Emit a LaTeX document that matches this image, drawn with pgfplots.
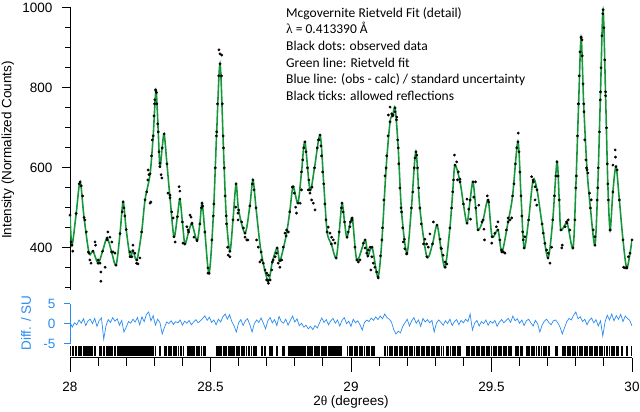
\documentclass[border=0pt]{standalone}
\usepackage{fontspec}
\setmainfont{Liberation Sans}
\newfontfamily\calibri{Carlito}
\newfontfamily\serifgreek{Liberation Serif}
\usepackage{pgfplots}
\usepackage{pgfplotstable}
\pgfplotsset{compat=1.18}
\definecolor{fitgreen}{RGB}{24,150,60}
\definecolor{diffblue}{RGB}{40,140,240}
\newcommand\lab{\fontsize{13.5}{16}\selectfont}

\pgfplotstableread{
x y
28.000 482
28.007 407
28.022 486
28.036 565
28.050 476
28.068 387
28.082 392
28.100 362
28.116 392
28.132 425
28.148 390
28.164 357
28.178 436
28.189 515
28.200 446
28.214 378
28.224 393
28.238 370
28.255 440
28.267 520
28.285 585
28.296 680
28.306 792
28.314 690
28.320 603
28.328 650
28.335 685
28.345 610
28.356 525
28.370 428
28.382 478
28.391 522
28.400 465
28.409 410
28.422 440
28.434 460
28.452 418
28.462 460
28.470 512
28.480 440
28.495 337
28.510 480
28.522 690
28.534 860
28.546 650
28.556 480
28.569 392
28.580 470
28.591 560
28.600 495
28.623 437
28.640 505
28.651 570
28.662 500
28.680 390
28.705 318
28.720 365
28.737 400
28.747 368
28.769 430
28.782 490
28.794 553
28.811 512
28.824 590
28.836 665
28.854 545
28.870 600
28.890 682
28.903 560
28.915 440
28.930 410
28.947 375
28.958 440
28.968 512
28.977 465
28.986 427
29.004 475
29.021 370
29.050 420
29.060 380
29.075 402
29.096 328
29.110 420
29.125 600
29.139 715
29.148 730
29.157 750
29.168 650
29.180 490
29.199 387
29.215 500
29.231 640
29.245 500
29.270 378
29.290 410
29.306 457
29.320 400
29.335 352
29.352 450
29.362 540
29.370 607
29.388 565
29.400 510
29.413 462
29.424 520
29.434 565
29.444 500
29.452 445
29.470 470
29.488 520
29.502 428
29.523 445
29.537 390
29.559 465
29.575 530
29.594 665
29.605 530
29.616 400
29.632 470
29.648 570
29.662 545
29.680 460
29.701 375
29.718 470
29.733 615
29.741 520
29.747 445
29.769 462
29.790 400
29.800 550
29.810 760
29.819 925
29.828 760
29.840 595
29.852 500
29.868 407
29.878 550
29.888 790
29.897 995
29.906 780
29.914 560
29.922 445
29.932 540
29.943 603
29.955 520
29.968 420
29.982 350
30.000 420
}\calc

\begin{document}
\begin{tikzpicture}
\useasboundingbox (0,0) rectangle (640pt,412pt);

% ---------- main panel ----------
\begin{axis}[
  at={(70pt,122pt)}, anchor=south west,
  scale only axis, width=562pt, height=283pt,
  xmin=28, xmax=30, ymin=295, ymax=1002,
  axis x line=none, axis y line=left,
  axis line style={-, line width=1pt},
  ytick={400,600,800,1000},
  minor ytick={300,350,450,500,550,650,700,750,850,900,950},
  tick align=outside, major tick length=8pt, minor tick length=5pt,
  every tick/.style={black, line width=1pt},
  tick label style={font=\lab},
  yticklabel style={xshift=-6pt},
  /pgf/number format/assume math mode=true,
  /pgf/number format/1000 sep={},
]
\addplot[fitgreen, line width=1.6pt, smooth] table {\calc};
\addplot[only marks, mark=*, mark size=1.2pt, black] table {\calc};
\addplot[only marks, mark=*, mark size=1.2pt, black] coordinates {
(28.004,415) (28.010,392) (28.033,560) (28.040,555) (28.045,530) (28.053,470) (28.058,440)
(28.065,390) (28.071,370) (28.075,362) (28.089,415) (28.091,407) (28.100,370) (28.107,362)
(28.110,340) (28.110,317) (28.125,352) (28.132,420) (28.135,440) (28.142,427) (28.149,415)
(28.153,390) (28.160,387) (28.186,490) (28.192,500) (28.195,480) (28.214,390) (28.220,378)
(28.224,407) (28.231,387) (28.237,362) (28.242,360) (28.249,375) (28.273,540) (28.277,570)
(28.278,595) (28.281,583) (28.285,512) (28.288,515) (28.301,760) (28.304,795) (28.308,788)
(28.290,630) (28.293,670) (28.299,730) (28.302,770) (28.309,760) (28.312,710) (28.317,640)
(28.320,612) (28.324,583) (28.327,575) (28.349,537) (28.356,532) (28.362,490) (28.367,475)
(28.374,415) (28.388,553) (28.391,542) (28.402,412) (28.416,453) (28.420,445) (28.427,482)
(28.431,477) (28.434,462) (28.441,427) (28.452,420) (28.468,500) (28.472,505) (28.491,337)
(28.491,350) (28.530,895) (28.534,885) (28.540,882)
(28.505,420) (28.512,510) (28.517,600) (28.521,680) (28.525,760) (28.529,830)
(28.539,830) (28.542,760) (28.545,680) (28.549,600) (28.552,530) (28.557,460)
(28.561,402) (28.563,382) (28.569,378) (28.590,502) (28.598,487) (28.598,470) (28.611,465)
(28.617,450) (28.623,427) (28.629,420) (28.633,420) (28.649,560) (28.655,545) (28.664,420)
(28.670,402) (28.676,365) (28.682,370) (28.688,362) (28.694,345) (28.700,337) (28.700,320)
(28.706,312) (28.706,332) (28.712,320) (28.718,345) (28.723,370) (28.730,378) (28.735,387)
(28.741,362) (28.747,352) (28.753,370) (28.759,402) (28.765,437) (28.771,445) (28.777,440)
(28.791,552) (28.798,537) (28.803,502) (28.806,487) (28.819,512) (28.824,545) (28.848,545)
(28.828,620) (28.832,650) (28.840,640) (28.845,600) (28.850,570)
(28.854,537) (28.860,520) (28.861,552) (28.866,512) (28.872,495) (28.886,670) (28.893,655)
(28.880,650) (28.884,670) (28.895,630) (28.899,590) (28.907,510) (28.911,470)
(28.919,452) (28.925,437) (28.931,427) (28.937,420) (28.943,412) (28.966,500) (28.972,490)
(28.990,440) (28.998,465) (29.004,470) (28.996,453) (29.014,402) (29.026,365) (29.032,370)
(29.044,412) (29.050,400) (29.056,387) (29.062,395) (29.068,402) (29.071,345) (29.074,378)
(29.079,362) (29.085,352) (29.091,340) (29.097,325)
(29.105,380) (29.112,450) (29.117,520) (29.121,580) (29.127,630) (29.132,680)
(29.133,732) (29.139,752) (29.145,735) (29.150,732) (29.157,740) (29.163,727)
(29.162,720) (29.166,670) (29.170,610) (29.174,550) (29.178,500) (29.184,450)
(29.186,415) (29.190,422) (29.192,398) (29.198,385) (29.228,625) (29.234,632)
(29.220,540) (29.225,600) (29.237,600) (29.241,550) (29.250,460) (29.258,410)
(29.263,422) (29.269,410) (29.275,402) (29.281,435) (29.293,465) (29.317,422) (29.322,398)
(29.328,382) (29.335,365) (29.341,360) (29.358,500) (29.365,570) (29.368,632) (29.376,615)
(29.379,570) (29.382,590) (29.388,572) (29.413,522) (29.419,497) (29.425,472) (29.437,527)
(29.443,565) (29.455,507) (29.466,465) (29.473,447) (29.475,420) (29.485,530) (29.490,515)
(29.501,412) (29.512,437) (29.517,453) (29.523,465) (29.530,420) (29.536,395) (29.542,390)
(29.548,387) (29.553,445) (29.559,475) (29.566,470) (29.572,475)
(29.580,560) (29.585,610) (29.590,650) (29.595,687) (29.598,640) (29.601,590) (29.608,480) (29.611,440)
(29.613,420) (29.619,428) (29.643,578) (29.649,565) (29.655,553) (29.655,520) (29.661,507)
(29.684,437) (29.690,412) (29.696,395) (29.702,387) (29.708,362) (29.714,402)
(29.724,530) (29.729,580) (29.737,580)
(29.750,400) (29.752,407) (29.762,453) (29.767,465) (29.773,470) (29.779,445)
(29.797,470) (29.802,580) (29.806,680) (29.809,760) (29.812,830) (29.815,890)
(29.819,927) (29.822,920) (29.823,880) (29.826,810) (29.829,740) (29.832,670) (29.836,620)
(29.838,600) (29.843,587) (29.849,537) (29.855,520) (29.862,445) (29.868,428)
(29.876,520) (29.880,600) (29.884,690) (29.887,770) (29.890,850) (29.893,930) (29.896,985)
(29.900,950) (29.903,870) (29.906,790) (29.909,700) (29.912,610) (29.916,520)
(29.922,445) (29.932,607) (29.940,645) (29.941,627) (29.947,595)
(29.970,352) (29.975,350) (29.981,352) (29.987,378) (29.993,387)
};
\end{axis}

% ---------- difference panel ----------
\begin{axis}[
  at={(70pt,68pt)}, anchor=south west,
  scale only axis, width=562pt, height=40pt,
  xmin=28, xmax=30, ymin=-5, ymax=5,
  axis x line=none, axis y line=left,
  axis line style={-, diffblue, line width=1pt},
  ytick={-5,0,5},
  tick align=outside, major tick length=6pt,
  every tick/.style={diffblue, line width=1pt},
  tick label style={font=\lab, text=diffblue},
  yticklabel style={xshift=-5pt},
  /pgf/number format/assume math mode=true,
]
\addplot[diffblue, line width=0.7pt] coordinates {
(28.000,0.5) (28.008,-0.8) (28.016,0.3) (28.024,-0.2) (28.032,1.0) (28.040,0.2) (28.048,1.3) (28.056,-0.4) (28.064,0.8) (28.072,1.2)
(28.080,0.1) (28.088,1.4) (28.096,-0.6) (28.104,0.9) (28.112,1.5) (28.120,-3.8) (28.128,-0.5) (28.136,1.1) (28.144,0.4) (28.152,1.6)
(28.160,0.7) (28.168,1.3) (28.176,-0.3) (28.184,0.9) (28.192,-2.0) (28.200,-0.8) (28.208,0.6) (28.216,0.2) (28.224,1.2) (28.232,0.5)
(28.240,1.6) (28.248,-0.2) (28.256,1.8) (28.264,0.6) (28.272,2.4) (28.280,3.0) (28.288,0.8) (28.296,2.1) (28.304,-0.3) (28.312,1.2)
(28.320,0.4) (28.328,-2.5) (28.336,-0.9) (28.344,0.5) (28.352,0.1) (28.360,0.8) (28.368,-0.1) (28.376,0.6) (28.384,0.3) (28.392,1.0)
(28.400,-0.3) (28.408,0.7) (28.416,0.2) (28.424,0.9) (28.432,-0.2) (28.440,0.5) (28.448,1.1) (28.456,0.3) (28.464,0.8) (28.472,1.4)
(28.480,2.0) (28.488,0.9) (28.496,1.7) (28.504,0.4) (28.512,1.0) (28.520,-0.2) (28.528,1.2) (28.536,0.5) (28.544,1.8) (28.552,2.5)
(28.560,1.2) (28.568,2.3) (28.576,0.6) (28.584,-0.5) (28.592,-2.0) (28.600,0.3) (28.608,1.1) (28.616,-0.4) (28.624,0.8) (28.632,1.3)
(28.640,-0.2) (28.648,-2.0) (28.656,0.1) (28.664,1.0) (28.672,0.4) (28.680,1.5) (28.688,0.2) (28.696,-1.2) (28.704,0.8) (28.712,1.6)
(28.720,0.3) (28.728,1.1) (28.736,-0.4) (28.744,1.9) (28.752,0.6) (28.760,0.2) (28.768,1.2) (28.776,-0.3) (28.784,0.9) (28.792,2.0)
(28.800,0.5) (28.808,1.3) (28.816,-0.4) (28.824,0.2) (28.832,-0.8) (28.840,-0.3) (28.848,-1.2) (28.856,-0.6) (28.864,-1.4) (28.872,-0.4)
(28.880,-1.0) (28.888,0.3) (28.896,1.5) (28.904,0.4) (28.912,1.1) (28.920,-0.2) (28.928,0.8) (28.936,1.4) (28.944,0.2) (28.952,1.0)
(28.960,-0.5) (28.968,0.9) (28.976,1.6) (28.984,0.1) (28.992,0.7) (29.000,-0.6) (29.008,1.2) (29.016,0.3) (29.024,0.8) (29.032,-0.2)
(29.040,-1.5) (29.048,0.4) (29.056,1.0) (29.064,0.6) (29.072,1.5) (29.080,0.9) (29.088,1.8) (29.096,1.1) (29.104,2.0) (29.112,1.3)
(29.120,2.5) (29.128,1.6) (29.136,1.2) (29.144,0.5) (29.152,-1.4) (29.160,-2.5) (29.168,-1.8) (29.176,-2.2) (29.184,-0.6) (29.192,0.3)
(29.200,1.2) (29.208,-0.5) (29.216,0.8) (29.224,1.6) (29.232,0.2) (29.240,1.0) (29.248,-0.6) (29.256,1.4) (29.264,0.5) (29.272,1.1)
(29.280,0.3) (29.288,0.9) (29.296,-2.0) (29.304,0.2) (29.312,1.0) (29.320,0.4) (29.328,-0.3) (29.336,0.8) (29.344,0.1) (29.352,1.2)
(29.360,-0.4) (29.368,0.6) (29.376,1.1) (29.384,-0.2) (29.392,0.9) (29.400,0.3) (29.408,1.2) (29.416,0.6) (29.424,2.5) (29.432,-1.5)
(29.440,0.2) (29.448,0.9) (29.456,-0.5) (29.464,0.6) (29.472,0.1) (29.480,1.0) (29.488,-0.3) (29.496,0.7) (29.504,0.2) (29.512,0.9)
(29.520,-0.6) (29.528,0.5) (29.536,1.1) (29.544,0.3) (29.552,0.9) (29.560,1.4) (29.568,0.4) (29.576,2.0) (29.584,0.8) (29.592,1.3)
(29.600,0.2) (29.608,1.0) (29.616,-0.4) (29.624,0.8) (29.632,1.2) (29.640,0.3) (29.648,-0.5) (29.656,0.9) (29.664,0.1) (29.672,-2.0)
(29.680,-0.3) (29.688,0.7) (29.696,1.2) (29.704,0.4) (29.712,-0.2) (29.720,0.8) (29.728,1.0) (29.736,0.3) (29.744,-0.8) (29.752,-2.5)
(29.760,-0.9) (29.768,0.6) (29.776,1.4) (29.784,1.0) (29.792,2.2) (29.800,3.0) (29.808,1.3) (29.816,1.8) (29.824,0.6) (29.832,1.2)
(29.840,-0.2) (29.848,0.9) (29.856,1.5) (29.864,0.3) (29.872,1.1) (29.880,-0.5) (29.888,0.8) (29.896,-3.0) (29.904,0.5) (29.912,2.2)
(29.920,1.0) (29.928,2.5) (29.936,0.8) (29.944,2.1) (29.952,1.2) (29.960,2.4) (29.968,0.6) (29.976,2.0) (29.984,1.4) (29.992,0.9)
(30.000,-0.5)
};
\end{axis}

% ---------- reflections and x axis ----------
\begin{axis}[
  at={(70pt,54pt)}, anchor=south west,
  scale only axis, width=562pt, height=12pt,
  xmin=28, xmax=30, ymin=-0.2, ymax=1,
  axis y line=none, axis x line=bottom,
  axis line style={-, line width=1pt},
  xtick={28,28.5,29,29.5,30},
  minor x tick num=4,
  tick align=outside, major tick length=14pt, minor tick length=8pt,
  every tick/.style={black, line width=1pt},
  tick label style={font=\lab},
  xticklabel style={yshift=-7pt},
  /pgf/number format/assume math mode=true,
]
\addplot[ycomb, black, line width=1.3pt] coordinates {
(28.002,1) (28.008,1) (28.013,1) (28.019,1) (28.024,1) (28.031,1) (28.036,1) (28.042,1) (28.047,1) (28.053,1)
(28.058,1) (28.064,1) (28.070,1) (28.075,1) (28.081,1) (28.086,1) (28.091,1)
(28.107,1) (28.112,1) (28.118,1) (28.124,1) (28.129,1) (28.135,1) (28.141,1) (28.146,1) (28.152,1) (28.158,1)
(28.163,1) (28.169,1) (28.174,1) (28.180,1) (28.185,1) (28.190,1) (28.195,1) (28.199,1)
(28.203,1) (28.206,1) (28.210,1) (28.214,1) (28.217,1) (28.221,1) (28.225,1) (28.229,1) (28.232,1) (28.236,1)
(28.240,1) (28.244,1) (28.248,1) (28.252,1) (28.256,1) (28.260,1) (28.264,1) (28.268,1) (28.272,1) (28.276,1)
(28.280,1) (28.284,1) (28.288,1) (28.292,1) (28.298,1) (28.305,1) (28.318,1) (28.323,1)
(28.338,1) (28.344,1) (28.350,1) (28.356,1) (28.362,1) (28.368,1) (28.374,1) (28.380,1) (28.386,1) (28.392,1)
(28.398,1) (28.404,1) (28.418,1) (28.423,1) (28.428,1) (28.433,1) (28.438,1) (28.444,1) (28.450,1) (28.456,1)
(28.462,1) (28.468,1) (28.474,1) (28.480,1)
(28.523,1) (28.528,1) (28.534,1) (28.540,1) (28.546,1) (28.552,1) (28.558,1) (28.563,1) (28.569,1) (28.575,1)
(28.580,1) (28.586,1) (28.592,1) (28.598,1) (28.604,1) (28.610,1) (28.616,1) (28.622,1) (28.628,1) (28.634,1)
(28.640,1) (28.646,1) (28.652,1) (28.658,1) (28.664,1)
(28.683,1) (28.694,1) (28.712,1) (28.719,1) (28.737,1) (28.755,1) (28.762,1)
(28.779,1) (28.784,1) (28.789,1) (28.794,1) (28.799,1) (28.804,1) (28.809,1) (28.814,1) (28.819,1) (28.824,1)
(28.829,1) (28.834,1) (28.839,1) (28.844,1) (28.849,1) (28.854,1) (28.859,1) (28.864,1) (28.869,1) (28.874,1)
(28.879,1) (28.884,1) (28.889,1) (28.894,1) (28.899,1) (28.904,1) (28.909,1) (28.914,1) (28.919,1) (28.924,1)
(28.929,1) (28.934,1) (28.939,1) (28.944,1) (28.949,1) (28.954,1) (28.959,1) (28.964,1)
(28.988,1) (28.994,1) (29.000,1) (29.006,1) (29.012,1) (29.018,1) (29.024,1) (29.030,1) (29.036,1) (29.042,1)
(29.048,1) (29.054,1) (29.060,1) (29.066,1) (29.072,1) (29.078,1) (29.084,1)
(29.118,1) (29.124,1) (29.130,1) (29.136,1) (29.142,1) (29.148,1) (29.154,1) (29.160,1) (29.166,1) (29.172,1)
(29.178,1) (29.184,1) (29.190,1) (29.196,1) (29.202,1) (29.208,1) (29.214,1) (29.220,1) (29.226,1) (29.232,1)
(29.238,1) (29.244,1) (29.250,1) (29.256,1) (29.262,1) (29.268,1) (29.274,1) (29.280,1) (29.286,1) (29.292,1)
(29.298,1) (29.304,1) (29.310,1) (29.316,1) (29.322,1) (29.328,1)
(29.342,1) (29.348,1) (29.354,1) (29.360,1) (29.366,1) (29.372,1) (29.378,1) (29.384,1) (29.390,1)
(29.410,1) (29.416,1) (29.422,1) (29.428,1) (29.434,1) (29.440,1) (29.446,1) (29.452,1) (29.458,1) (29.464,1)
(29.470,1) (29.476,1) (29.482,1) (29.488,1) (29.494,1) (29.500,1) (29.506,1) (29.512,1) (29.518,1) (29.524,1)
(29.530,1) (29.536,1) (29.542,1) (29.548,1) (29.554,1) (29.560,1) (29.566,1) (29.572,1)
(29.585,1) (29.591,1) (29.597,1) (29.603,1) (29.608,1)
(29.624,1) (29.630,1) (29.636,1) (29.642,1) (29.648,1) (29.654,1) (29.660,1) (29.666,1) (29.672,1) (29.678,1)
(29.684,1) (29.690,1) (29.696,1) (29.702,1) (29.707,1) (29.728,1) (29.733,1)
(29.752,1) (29.758,1) (29.764,1) (29.770,1) (29.776,1) (29.782,1) (29.788,1) (29.794,1) (29.800,1) (29.806,1)
(29.812,1) (29.818,1) (29.824,1) (29.830,1) (29.836,1) (29.842,1) (29.848,1) (29.854,1) (29.860,1) (29.866,1)
(29.872,1) (29.878,1) (29.884,1) (29.890,1) (29.896,1) (29.902,1) (29.908,1) (29.914,1) (29.920,1) (29.926,1)
(29.932,1) (29.938,1) (29.944,1) (29.950,1) (29.964,1) (29.982,1) (29.997,1)
};
\end{axis}

% ---------- labels ----------
\node[rotate=90, font=\lab] at (8pt,262pt) {Intensity (Normalized Counts)};
\node[rotate=90, font=\lab, text=diffblue] at (26pt,89pt) {Diff. / SU};
\node[font=\lab] at (351pt,10pt) {2{\serifgreek θ} (degrees)};
\node[anchor=north west, align=left, inner sep=0pt,
      font=\calibri\fontsize{13.5}{16.7}\selectfont] at (286pt,405pt)
  {Mcgovernite Rietveld Fit (detail)\\
   {\serifgreek λ} = 0.413390 Å\\
   Black dots: observed data\\
   Green line: Rietveld fit\\
   Blue line: (obs - calc) / standard uncertainty\\
   Black ticks: allowed reflections};
\end{tikzpicture}
\end{document}
